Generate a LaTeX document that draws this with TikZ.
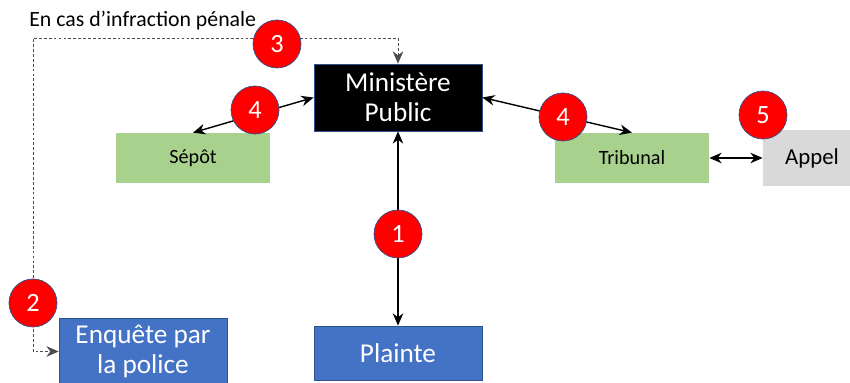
\documentclass[tikz,border=0pt]{standalone}
\usepackage{fontspec}
\setmainfont{Carlito}
\usetikzlibrary{arrows.meta}
\definecolor{boxBlue}{HTML}{4472C4}
\definecolor{lineBlue}{HTML}{2F528F}
\definecolor{boxGreen}{HTML}{A9D18E}
\definecolor{boxGrey}{HTML}{D9D9D9}

\begin{document}
\begin{tikzpicture}[>={Stealth[length=7pt,width=6pt]}]
            \tikzstyle{blueBox} = [rectangle,draw=lineBlue,fill=boxBlue,text=white,
                                   align=center,font=\fontsize{15.5}{17}\selectfont]
            \tikzstyle{greenBox} = [rectangle,fill=boxGreen,minimum width=3.08cm,
                                    minimum height=1cm,font=\fontsize{11.5}{13}\selectfont]
            \tikzstyle{stepCircle} = [circle,draw=lineBlue,fill=red,text=white,
                                      minimum size=0.96cm,inner sep=0pt,
                                      font=\fontsize{15}{17}\selectfont]
            \tikzstyle{blackEdge} = [draw=black, line width=0.8pt, <->]
            \tikzstyle{dotEdge} = [draw=black!70, dash pattern=on 1.6pt off 1.2pt,
                                   line width=0.5pt, <->]
            \useasboundingbox (0,0) rectangle (17,7.66);
            % boxes
            \node[blueBox,fill=black,minimum width=3.36cm,minimum height=1.34cm] (m) at (7.96,5.71) {Ministère\\Public};
            \node[greenBox] (s) at (3.86,4.5) {Sépôt};
            \node[greenBox] (t) at (12.64,4.5) {Tribunal};
            \node[rectangle,fill=boxGrey,minimum width=1.96cm,minimum height=1.12cm,
                  font=\fontsize{13}{15}\selectfont] (a) at (16.24,4.5) {Appel};
            \node[blueBox,minimum width=3.36cm,minimum height=1.34cm] (e) at (2.86,0.63) {Enquête par\\la police};
            \node[blueBox,minimum width=3.36cm,minimum height=1.08cm] (p) at (7.96,0.6) {Plainte};
            \node[anchor=west,inner sep=0pt,font=\fontsize{12.4}{14}\selectfont] (lbl) at (0.58,7.24) {En cas d’infraction pénale};
            \coordinate (c) at (0.66,6.9);
            % connectors
            \path[dotEdge] (m.north) |- (c) |- (e.west);
            \foreach \from/\to in {s.north/m.west,m.east/t.north,t.east/a.west,m.south/p.north}
                \path[blackEdge] (\from) -- (\to);
            % numbered steps
            \node[stepCircle] (n1) at (7.96,2.98) {1};
            \node[stepCircle] (n2) at (0.66,1.6)  {2};
            \node[stepCircle] (n3) at (5.54,6.78) {3};
            \node[stepCircle] (n4a) at (5.1,5.46) {4};
            \node[stepCircle] (n4b) at (11.26,5.32) {4};
            \node[stepCircle] (n5) at (15.26,5.36) {5};
        \end{tikzpicture}
\end{document}
